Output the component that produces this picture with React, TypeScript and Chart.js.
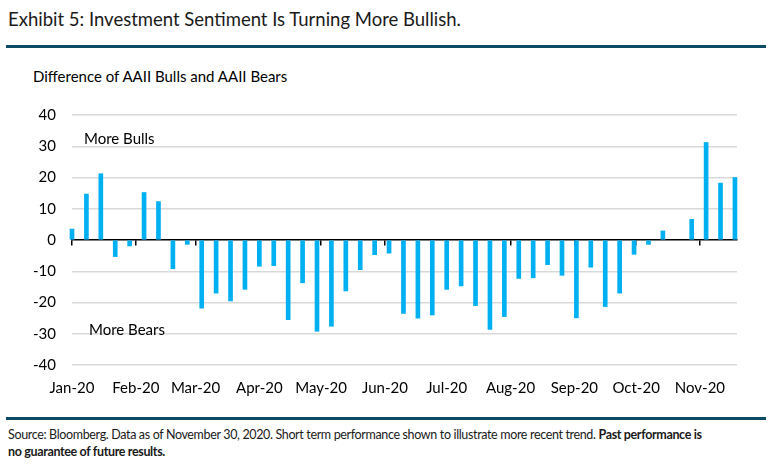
import React, { useEffect, useRef } from "react";
import { Chart, registerables } from "chart.js";

Chart.register(...registerables);

// Weekly survey dates (Wednesdays) from Jan 1, 2020
const weekStart = "2020-01-01";
const weekCount = 47;
// Difference of AAII Bulls and AAII Bears (percentage points); null = no bar
const bullBearSpread: (number | null)[] = [
  3.5, 14.7, 21.2, -5.3, -1.9, 15.2, 12.3, -9.2, -1.4, -21.8,
  -17.0, -19.5, -15.8, -8.4, -8.2, -25.5, -13.7, -29.2, -27.6, -16.3,
  -9.5, -4.7, -4.2, -23.5, -25.0, -24.0, -15.8, -14.7, -21.0, -28.6,
  -24.5, -12.3, -12.1, -7.9, -11.3, -24.9, -8.7, -21.3, -17.0, -4.6,
  -1.4, 2.9, null, 6.6, 31.2, 18.2, 20.0,
];
const monthStarts = [
  "2020-01-01", "2020-02-01", "2020-03-01", "2020-04-01", "2020-05-01", "2020-06-01",
  "2020-07-01", "2020-08-01", "2020-09-01", "2020-10-01", "2020-11-01",
];
const monthLabels = [
  "Jan-20", "Feb-20", "Mar-20", "Apr-20", "May-20", "Jun-20",
  "Jul-20", "Aug-20", "Sep-20", "Oct-20", "Nov-20",
];
const axisEndDate = "2020-11-19";
const yTicks = [-40, -30, -20, -10, 0, 10, 20, 30, 40];

const DAY = 86400000;
const dayOf = (iso: string) => (Date.parse(iso + "T00:00:00Z") - Date.parse(weekStart + "T00:00:00Z")) / DAY;
const monthDays = monthStarts.map(dayOf);
const FONT = "Lato, 'Open Sans', sans-serif";

export default function App() {
  const ref = useRef<HTMLCanvasElement | null>(null);

  useEffect(() => {
    if (!ref.current) return;
    const points = bullBearSpread
      .slice(0, weekCount)
      .map((v, i) => ({ x: i * 7, y: v }))
      .filter((p) => p.y !== null) as { x: number; y: number }[];
    const xMax = dayOf(axisEndDate);
    const setMonthTicks = (scale: any) => {
      scale.ticks = monthDays.map((d) => ({ value: d }));
    };
    const chart = new Chart(ref.current, {
      type: "bar",
      data: {
        datasets: [
          {
            data: points,
            backgroundColor: "#00B0F0",
            borderWidth: 0,
            barThickness: 4,
            clip: false as any,
            xAxisID: "x",
            yAxisID: "y",
          },
        ],
      },
      options: {
        animation: false,
        responsive: false,
        maintainAspectRatio: false,
        layout: { padding: { top: 22, right: 34, left: 0, bottom: 0 } },
        plugins: { legend: { display: false }, tooltip: { enabled: false }, title: { display: false } },
        scales: {
          x: {
            type: "linear",
            min: 0,
            max: xMax,
            offset: false,
            position: "bottom",
            grid: { display: false, drawTicks: false, offset: false },
            border: { display: false },
            afterBuildTicks: setMonthTicks,
            afterFit: (s: any) => {
              s.height = 45;
            },
            ticks: {
              autoSkip: false,
              maxRotation: 0,
              padding: 14,
              color: "#000",
              font: { family: FONT, size: 15 },
              callback: (v: any) => {
                const idx = monthDays.indexOf(Number(v));
                return idx >= 0 ? monthLabels[idx] : "";
              },
            },
          },
          x0: {
            type: "linear",
            axis: "x",
            min: 0,
            max: xMax,
            offset: false,
            position: { y: 0 } as any,
            afterBuildTicks: setMonthTicks,
            grid: { drawOnChartArea: false, drawTicks: true, tickLength: 5, color: "#000", lineWidth: 1.5, offset: false },
            border: { display: true, color: "#000", width: 1.5 },
            ticks: { display: false },
          },
          y: {
            type: "linear",
            min: -40,
            max: 40,
            afterBuildTicks: (s: any) => {
              s.ticks = yTicks.map((v) => ({ value: v }));
            },
            afterFit: (s: any) => {
              s.width = 72;
            },
            border: { display: false },
            grid: {
              drawTicks: false,
              color: (ctx: any) => (ctx.tick && ctx.tick.value === 0 ? "rgba(0,0,0,0)" : "#d9d9d9"),
              lineWidth: 1.5,
            },
            ticks: {
              padding: 16,
              color: "#000",
              font: { family: FONT, size: 15 },
            },
          },
        },
      },
    });
    return () => chart.destroy();
  }, []);

  return (
    <div
      style={{
        position: "fixed",
        left: 0,
        top: 0,
        width: 771,
        height: 471,
        background: "#fff",
        fontFamily: FONT,
        color: "#000",
        overflow: "hidden",
      }}
    >
      <div style={{ position: "absolute", left: 8, top: 8, fontSize: 18.5, color: "#1a1a1a", whiteSpace: "nowrap" }}>
        Exhibit 5: Investment Sentiment Is Turning More Bullish.
      </div>
      <div style={{ position: "absolute", left: 6, top: 45, width: 760, height: 3, background: "#0d4a64" }} />
      <div style={{ position: "absolute", left: 33, top: 67, fontSize: 15, whiteSpace: "nowrap" }}>
        Difference of AAII Bulls and AAII Bears
      </div>
      <canvas ref={ref} width={771} height={320} style={{ position: "absolute", left: 0, top: 90, width: 771, height: 320 }} />
      <div style={{ position: "absolute", left: 84, top: 129, fontSize: 15, whiteSpace: "nowrap" }}>More Bulls</div>
      <div style={{ position: "absolute", left: 89, top: 320, fontSize: 15, whiteSpace: "nowrap" }}>More Bears</div>
      <div style={{ position: "absolute", left: 6, top: 417, width: 760, height: 3, background: "#0d4a64" }} />
      <div
        style={{
          position: "absolute",
          left: 8,
          top: 426,
          fontSize: 12.5,
          lineHeight: "17px",
          letterSpacing: "-0.35px",
          color: "#1a1a1a",
          whiteSpace: "nowrap",
        }}
      >
        Source: Bloomberg. Data as of November 30, 2020. Short term performance shown to illustrate more recent trend.{" "}
        <b>Past performance is</b>
        <br />
        <b>no guarantee of future results.</b>
      </div>
    </div>
  );
}
